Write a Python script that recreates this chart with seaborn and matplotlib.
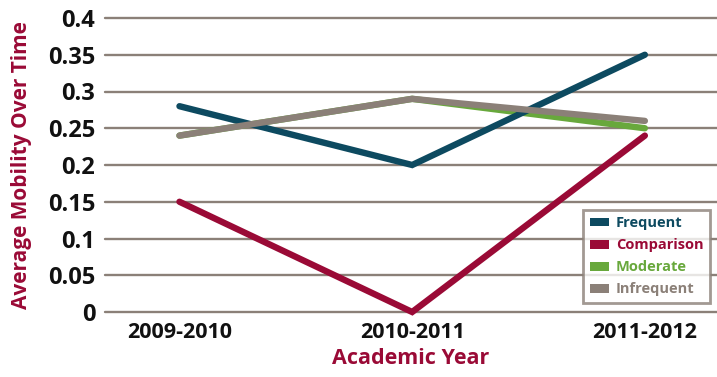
import matplotlib
matplotlib.use("Agg")
import matplotlib.pyplot as plt
import seaborn as sns
import pandas as pd
from matplotlib.patches import Patch

years = ["2009-2010", "2010-2011", "2011-2012"]
frequent = [0.28, 0.20, 0.35]
comparison = [0.15, 0.00, 0.24]
moderate = [0.24, 0.29, 0.25]
infrequent = [0.24, 0.29, 0.26]
yticks = [0, 0.05, 0.1, 0.15, 0.2, 0.25, 0.3, 0.35, 0.4]
ytick_labels = ["0", "0.05", "0.1", "0.15", "0.2", "0.25", "0.3", "0.35", "0.4"]

series = {"Frequent": frequent, "Comparison": comparison,
          "Moderate": moderate, "Infrequent": infrequent}
colors = {"Frequent": "#0d4a60", "Comparison": "#9a0a36",
          "Moderate": "#68a83c", "Infrequent": "#8b8078"}

rows = []
for name, vals in series.items():
    for i, (y, v) in enumerate(zip(years, vals)):
        rows.append({"Year": y, "x": i, "Value": v, "Group": name})
df = pd.DataFrame(rows)

sns.set_style("white")
plt.rcParams["font.family"] = ["Open Sans", "DejaVu Sans"]

fig = plt.figure(figsize=(7.17, 3.77), dpi=100)
ax = fig.add_axes([105/717, (377-312)/377, 1 - 105/717, (312-18)/377])

for y in yticks:
    ax.axhline(y, color="#8b8078", lw=1.7, zorder=0, clip_on=False)

order = ["Comparison", "Moderate", "Frequent", "Infrequent"]
for name in order:
    sub = df[df.Group == name]
    sns.lineplot(data=sub, x="x", y="Value", ax=ax, color=colors[name],
                 lw=4.6, legend=False, clip_on=False, zorder=3,
                 solid_joinstyle="miter")

ax.set_xlim(-0.32, 2.31)
ax.set_ylim(0, 0.4)
ax.set_xticks(range(len(years)))
ax.set_xticklabels(years, fontsize=15.5, fontweight="bold", color="#111111")
ax.set_yticks(yticks)
ax.set_yticklabels(ytick_labels, fontsize=17, fontweight="bold", color="#111111")
ax.tick_params(axis="both", length=0)
ax.tick_params(axis="y", pad=7)
ax.tick_params(axis="x", pad=7)
for s in ax.spines.values():
    s.set_visible(False)
ax.set_xlabel("Academic Year", fontsize=15.5, fontweight="bold", color="#9a0a36", labelpad=4)
ax.set_ylabel("Average Mobility Over Time", fontsize=15, fontweight="bold", color="#9a0a36")
ax.yaxis.set_label_coords(-0.12, 0.5)

handles = [Patch(facecolor=colors[n], edgecolor="none", label=n) for n in series]
leg = ax.legend(handles=handles, loc="lower right", bbox_to_anchor=(0.9886, 0.031),
                frameon=True, fontsize=10.5, handlelength=1.3, handleheight=0.55,
                borderpad=0.45, labelspacing=0.55, handletextpad=0.5, fancybox=False,
                borderaxespad=0)
leg.get_frame().set_edgecolor("#8b8078")
leg.get_frame().set_linewidth(2.0)
leg.set_zorder(5)
for t, n in zip(leg.get_texts(), series):
    t.set_color(colors[n])
    t.set_fontweight("bold")

fig.savefig("out.png", dpi=100)
